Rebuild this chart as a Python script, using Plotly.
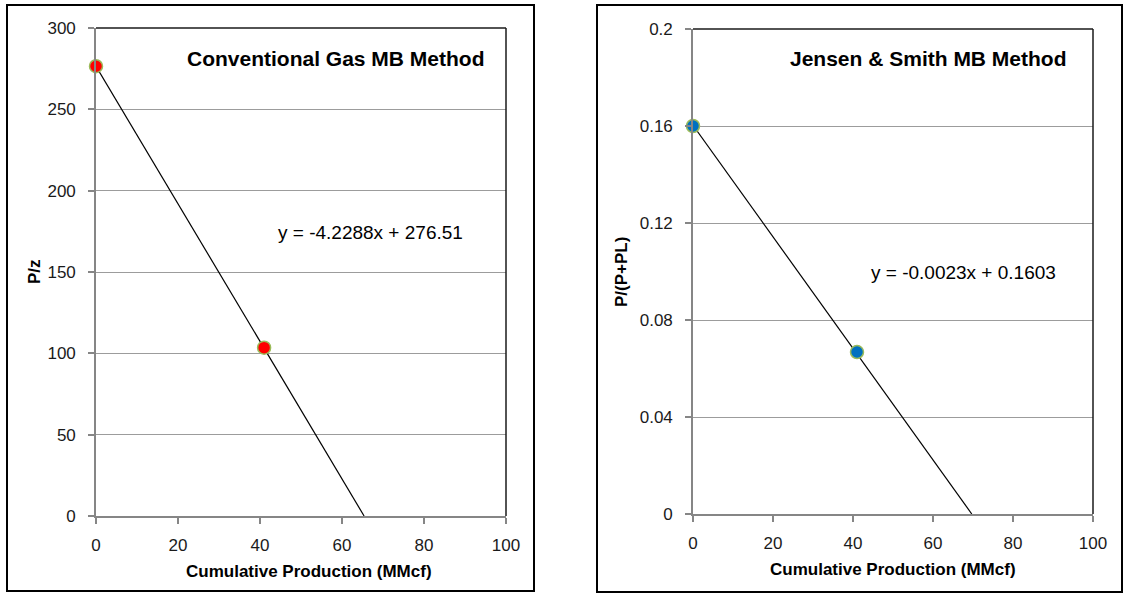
import plotly.graph_objects as go

W, H = 1124, 594

# Data
x_conv = [0, 41]
y_conv = [276.5, 103.5]
slope_conv, icpt_conv = -4.2288, 276.51

x_js = [0, 41]
y_js = [0.1600, 0.0668]
slope_js, icpt_js = -0.0023, 0.1603

x_ticks = [0, 20, 40, 60, 80, 100]
y_ticks_conv = [0, 50, 100, 150, 200, 250, 300]
y_ticks_js = [0, 0.04, 0.08, 0.12, 0.16, 0.2]
y_ticklabels_js = ["0", "0.04", "0.08", "0.12", "0.16", "0.2"]

title_conv = "Conventional Gas MB Method"
title_js = "Jensen &amp; Smith MB Method"
eq_conv = "y = -4.2288x + 276.51"
eq_js = "y = -0.0023x + 0.1603"
xlabel = "Cumulative Production (MMcf)"
ylabel_conv = "P/z"
ylabel_js = "P/(P+PL)"

FONT = "Liberation Sans"

def px(x):
    return x / W

def py(y):
    return 1 - y / H

fig = go.Figure()

# trendlines from the fitted equations (from x=0 to x-intercept)
xe_conv = -icpt_conv / slope_conv
fig.add_trace(go.Scatter(x=[0, xe_conv], y=[icpt_conv, icpt_conv + slope_conv * xe_conv],
                         mode="lines", line=dict(color="black", width=1.2),
                         xaxis="x", yaxis="y", showlegend=False, hoverinfo="skip"))
fig.add_trace(go.Scatter(x=x_conv, y=y_conv, mode="markers",
                         marker=dict(color="#ff0000", size=13, line=dict(color="#9bbb59", width=1.5)),
                         xaxis="x", yaxis="y", showlegend=False, cliponaxis=False))

xe_js = -icpt_js / slope_js
fig.add_trace(go.Scatter(x=[0, xe_js], y=[icpt_js, icpt_js + slope_js * xe_js],
                         mode="lines", line=dict(color="black", width=1.2),
                         xaxis="x2", yaxis="y2", showlegend=False, hoverinfo="skip"))
fig.add_trace(go.Scatter(x=x_js, y=y_js, mode="markers",
                         marker=dict(color="#0070c0", size=13, line=dict(color="#9bbb59", width=1.5)),
                         xaxis="x2", yaxis="y2", showlegend=False, cliponaxis=False))

axis_common = dict(showline=True, linecolor="#868686", linewidth=1.6, mirror=False,
                   ticks="outside", ticklen=6, tickcolor="#868686", tickwidth=1.6,
                   tickfont=dict(family=FONT, size=17, color="#1a1a1a"),
                   zeroline=False, automargin=False)

L1, R1, T1, B1 = 96, 506, 28, 516
L2, R2, T2, B2 = 693, 1093, 29, 514

fig.update_layout(
    template="none",
    width=W, height=H,
    margin=dict(l=0, r=0, t=0, b=0, pad=0),
    paper_bgcolor="white", plot_bgcolor="white",
    xaxis=dict(domain=[px(L1), px(R1)], range=[0, 100], tickvals=x_ticks,
               showgrid=False, anchor="y", ticklabelstandoff=7, **axis_common),
    yaxis=dict(domain=[py(B1), py(T1)], range=[0, 300], tickvals=y_ticks_conv,
               showgrid=True, gridcolor="#9c9c9c", gridwidth=1.4, anchor="x",
               ticklabelstandoff=9, **axis_common),
    xaxis2=dict(domain=[px(L2), px(R2)], range=[0, 100], tickvals=x_ticks,
                showgrid=False, anchor="y2", ticklabelstandoff=7, **axis_common),
    yaxis2=dict(domain=[py(B2), py(T2)], range=[0, 0.2], tickvals=y_ticks_js,
                ticktext=y_ticklabels_js,
                showgrid=True, gridcolor="#9c9c9c", gridwidth=1.4, anchor="x2",
                ticklabelstandoff=9, **axis_common),
)

# plot-area border (top and right edges)
for (l, r, t, b) in [(L1, R1, T1, B1), (L2, R2, T2, B2)]:
    fig.add_shape(type="line", xref="paper", yref="paper",
                  x0=px(l), x1=px(r), y0=py(t), y1=py(t),
                  line=dict(color="#1a1a1a", width=1.5))
    fig.add_shape(type="line", xref="paper", yref="paper",
                  x0=px(r), x1=px(r), y0=py(t), y1=py(b),
                  line=dict(color="#1a1a1a", width=1.5))

# outer chart borders
fig.add_shape(type="rect", xref="paper", yref="paper",
              x0=px(7), x1=px(534), y0=py(591), y1=py(5),
              line=dict(color="black", width=2))
fig.add_shape(type="rect", xref="paper", yref="paper",
              x0=px(597), x1=px(1122), y0=py(592), y1=py(5),
              line=dict(color="black", width=2))

def ann(text, x, y, size, bold=False, angle=0):
    fig.add_annotation(xref="paper", yref="paper", x=px(x), y=py(y),
                       text=f"<b>{text}</b>" if bold else text, showarrow=False,
                       textangle=angle, xanchor="center", yanchor="middle",
                       font=dict(family=FONT, size=size, color="black"))

ann(title_conv, 336, 58, 21, bold=True)
ann(eq_conv, 370, 232, 19)
ann(xlabel, 309, 571, 17, bold=True)
ann(ylabel_conv, 34, 272, 17, bold=True, angle=-90)

ann(title_js, 928, 58, 21, bold=True)
ann(eq_js, 963, 272, 19)
ann(xlabel, 893, 569, 17, bold=True)
ann(ylabel_js, 621, 272, 17, bold=True, angle=-90)

fig.write_html("out.html")
